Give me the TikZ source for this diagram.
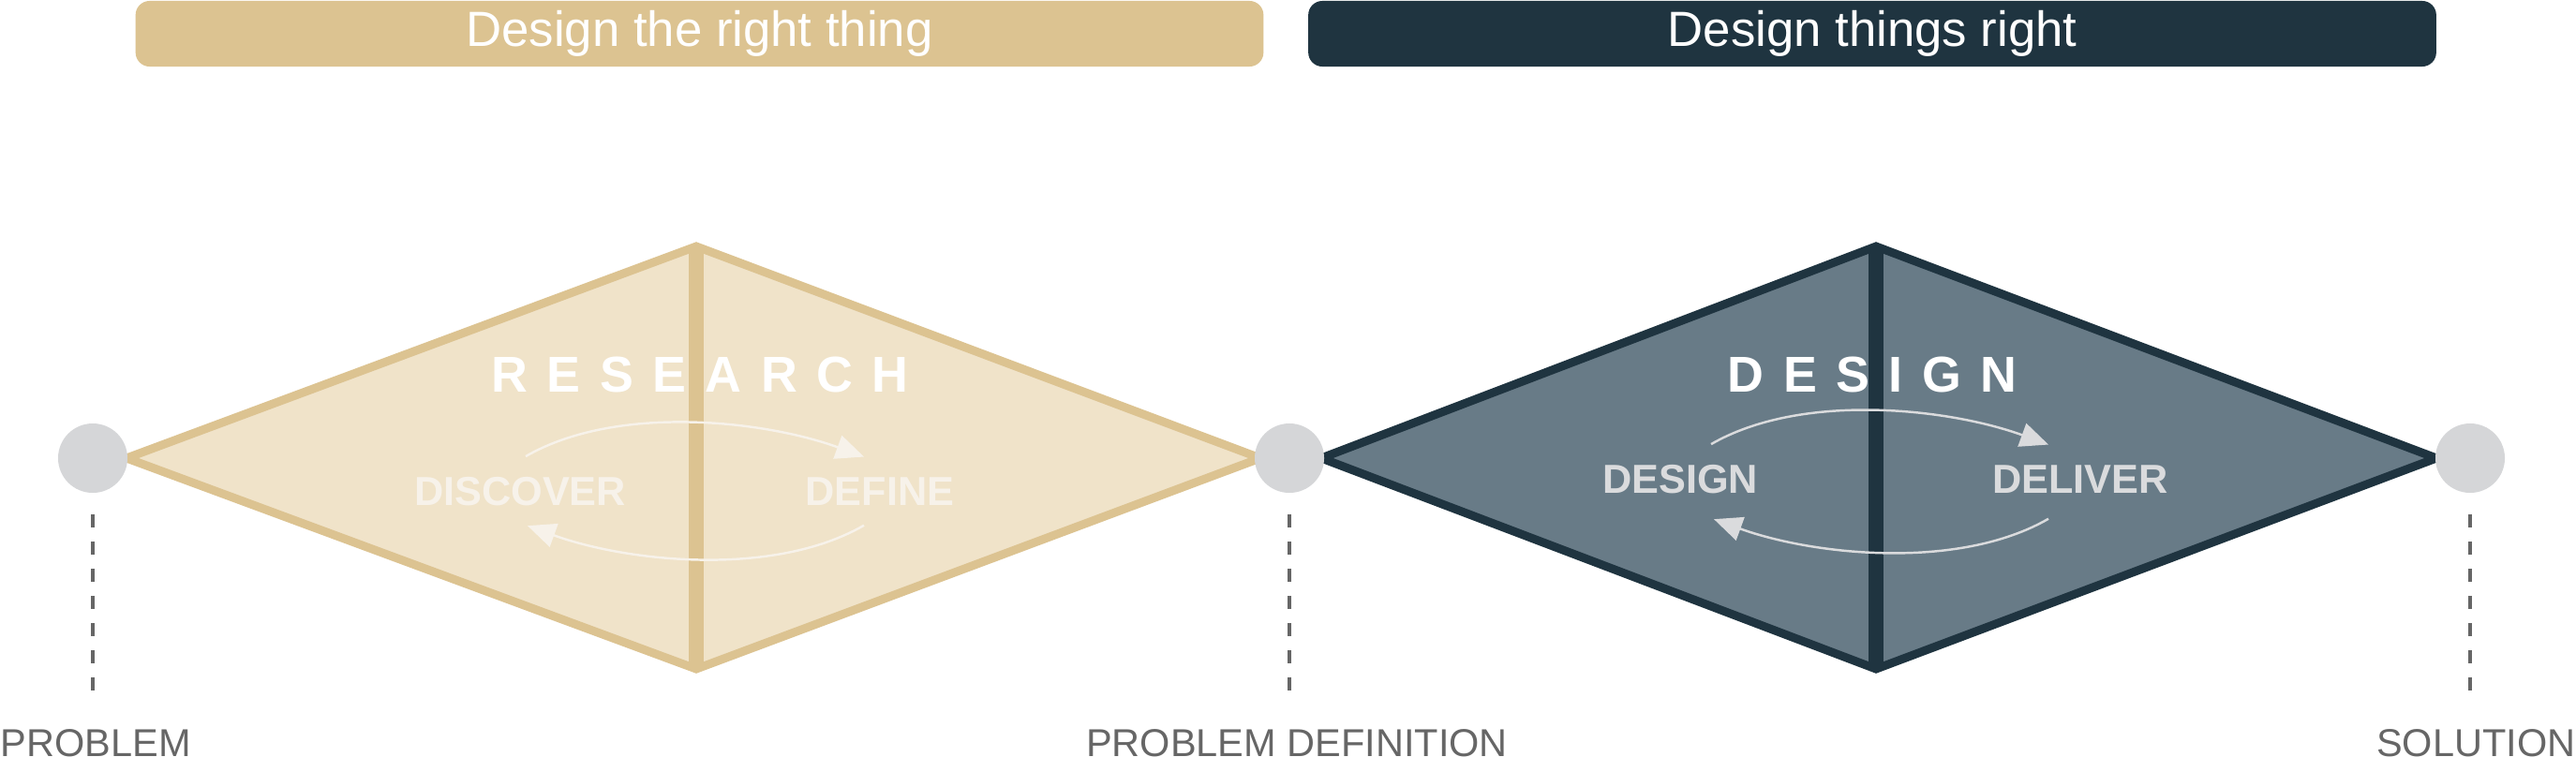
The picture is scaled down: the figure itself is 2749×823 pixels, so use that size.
\documentclass[tikz,border=0pt]{standalone}
\usepackage{fontspec}
\setmainfont{Liberation Sans}
\usetikzlibrary{arrows.meta,positioning}
\definecolor{tan}{HTML}{DCC391}
\definecolor{tanfill}{HTML}{F0E3C9}
\definecolor{navy}{HTML}{1F3440}
\definecolor{slate}{HTML}{687B87}
\definecolor{dotgray}{HTML}{D5D6D8}
\definecolor{cream}{HTML}{F7F2EA}
\definecolor{lightgray}{HTML}{DADBDD}
\definecolor{capgray}{HTML}{666666}
\begin{document}
\begin{tikzpicture}[x=0.01cm,y=0.01cm,
    banner/.style={rounded corners=0.15cm,minimum width=12.03cm,minimum height=0.7cm,
      text=white,font=\fontsize{15}{18}\selectfont,inner sep=0pt},
    stage dot/.style={circle,fill=dotgray,minimum size=0.74cm,inner sep=0pt},
    guide/.style={draw=capgray,line width=1.1pt,dash pattern=on 0.14cm off 0.15cm},
    caption/.style={text=capgray,font=\fontsize{11.8}{13}\selectfont,inner sep=0pt},
    phase/.style={font=\fontsize{12.3}{14}\selectfont\bfseries,inner sep=0.21cm},
    phasetitle/.style={text=white,font=\fontsize{15.3}{18}\selectfont\bfseries\addfontfeatures{LetterSpace=38},inner sep=0pt},
    loop arrow/.style={line width=0.7pt,-{Triangle[length=0.3cm,width=0.26cm]},looseness=0.8},
    outline/.style={line width=2.56pt,line join=miter},
    spine/.style={line width=4.5pt}]
    \useasboundingbox (0,0) rectangle (2749,823);
    % banners on top
    \node[banner,fill=tan] (rightthing) at (746.5,787) {Design the right thing};
    \node[banner,fill=navy] (thingsright) at (1998,787) {Design things right};
    % first diamond
    \draw[outline,draw=tan,fill=tanfill] (135,334) -- (743,560) -- (1345,334) -- (743,109) -- cycle;
    \draw[spine,tan] (743,560) -- (743,109);
    % second diamond
    \draw[outline,draw=navy,fill=slate] (1410,334) -- (2002,560) -- (2600,334) -- (2002,109) -- cycle;
    \draw[spine,navy] (2002,560) -- (2002,109);
    \node[phasetitle,anchor=base] (research) at (747,405) {RESEARCH};
    \node[phasetitle,anchor=base] (designtitle) at (1998,405) {DESIGN};
    \node[phase,text=cream,anchor=base] (discover) at (555,284) {DISCOVER};
    \node[phase,text=cream,anchor=base] (define) at (939,284) {DEFINE};
    \node[phase,text=lightgray,anchor=base] (design) at (1793,297) {DESIGN};
    \node[phase,text=lightgray,anchor=base] (deliver) at (2220,297) {DELIVER};
    \draw[loop arrow,cream] ([xshift=0.06cm]discover.north) to[out=30,in=160] ([xshift=-0.17cm]define.north);
    \draw[loop arrow,cream] ([xshift=-0.17cm]define.south) to[out=-150,in=-20] ([xshift=0.08cm]discover.south);
    \draw[loop arrow,lightgray] ([xshift=0.33cm]design.north) to[out=30,in=160] ([xshift=-0.34cm]deliver.north);
    \draw[loop arrow,lightgray] ([xshift=-0.34cm,yshift=-0.06cm]deliver.south) to[out=-150,in=-20] ([xshift=0.36cm,yshift=-0.06cm]design.south);
    % milestones
    \node[stage dot] (problem) at (99,334) {};
    \node[stage dot] (definition) at (1376,334) {};
    \node[stage dot] (solution) at (2636,334) {};
    \node[caption,anchor=base west] (problemtxt) at (0,16) {PROBLEM};
    \node[caption,anchor=base] (definitiontxt) at (1384,16) {PROBLEM DEFINITION};
    \node[caption,anchor=base east] (solutiontxt) at (2749,16) {SOLUTION};
    \draw[guide,shorten <=0.22cm,shorten >=0.3cm] (problem.south) -- (problem.south |- problemtxt.north);
    \draw[guide,shorten <=0.22cm,shorten >=0.3cm] (definition.south) -- (definition.south |- definitiontxt.north);
    \draw[guide,shorten <=0.22cm,shorten >=0.3cm] (solution.south) -- (solution.south |- solutiontxt.north);
\end{tikzpicture}
\end{document}
